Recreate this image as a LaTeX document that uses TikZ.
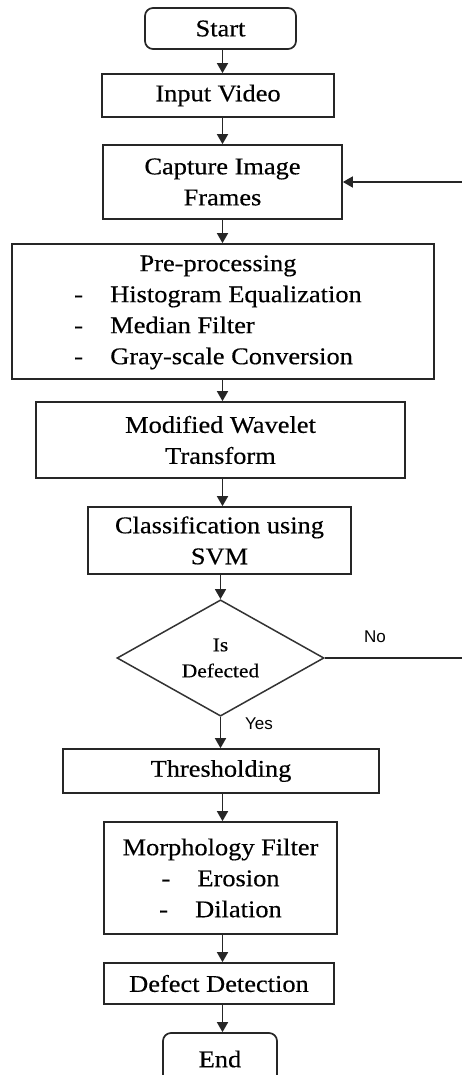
\documentclass[tikz,border=0pt]{standalone}
\usepackage{fontspec}
\setmainfont{Liberation Serif}[FakeStretch=1.1,FakeBold=0.4]
\newfontfamily\labelfont{Liberation Sans}
\usetikzlibrary{arrows.meta,shapes.geometric}
\begin{document}
\begin{tikzpicture}[x=1pt,y=-1pt,
  box/.style={draw=black!85, line width=1.7pt, inner sep=0pt, align=center,
    font=\fontsize{24}{31}\selectfont},
  term/.style={box, rounded corners=8pt},
  decision/.style={diamond, draw=black!80, line width=1.5pt, inner sep=0pt, align=center,
    font=\fontsize{19.5}{26}\selectfont},
  arr/.style={-{Triangle[width=11pt,length=10pt]}, line width=1.7pt, draw=black!85},
  lbl/.style={font=\labelfont\fontsize{17}{20}\selectfont, inner sep=0pt}]
\useasboundingbox (0,0) rectangle (461,1075);
\node[term, minimum width=151pt, minimum height=41pt] (start) at (220.5,28.5) {Start};
\node[box, minimum width=232pt, minimum height=43pt] (input) at (218,95.5) {Input Video};
\node[box, minimum width=239pt, minimum height=74pt] (cap) at (222.5,182) {Capture Image\\Frames};
\node[box, minimum width=422pt, minimum height=135pt] (pre) at (223,311.5)
  {\begin{tabular}{@{}p{36pt}@{}l@{}}\multicolumn{2}{c}{Pre-processing}\\ -&Histogram Equalization\\ -&Median Filter\\ -&Gray-scale Conversion\end{tabular}\hspace*{10pt}};
\node[box, minimum width=369pt, minimum height=76pt] (mwt) at (220.5,440) {Modified Wavelet\\Transform};
\node[box, minimum width=263pt, minimum height=67pt] (cls) at (219.5,540.5) {Classification using\\SVM};
\node[decision, minimum width=207pt, minimum height=114pt] (dec) at (220.5,658) {Is\\Defected};
\node[box, minimum width=316pt, minimum height=44pt] (thr) at (221,771) {Thresholding};
\node[box, minimum width=233pt, minimum height=112pt] (mor) at (220.5,878)
  {Morphology Filter\\ \makebox[36pt][l]{-}Erosion\\ \makebox[36pt][l]{-}Dilation};
\node[box, minimum width=230pt, minimum height=41pt] (det) at (219,983.5) {Defect Detection};
\node[term, minimum width=114pt, minimum height=52pt] (end) at (220,1059) {End};
\node[lbl] (no) at (375,637) {No};
\node[lbl] (yes) at (259,724) {Yes};
\coordinate (ax) at (222.5,0);
\coordinate (loopR) at (465,0);
\draw[arr] (start.south -| ax) -- (input.north -| ax);
\draw[arr] (input.south -| ax) -- (cap.north -| ax);
\draw[arr] (cap.south -| ax) -- (pre.north -| ax);
\draw[arr] (pre.south -| ax) -- (mwt.north -| ax);
\draw[arr] (mwt.south -| ax) -- (cls.north -| ax);
\draw[arr] (cls.south -| dec.north) -- (dec.north);
\draw[arr] (dec.south) -- (thr.north -| dec.south);
\draw[arr] (thr.south -| ax) -- (mor.north -| ax);
\draw[arr] (mor.south -| ax) -- (det.north -| ax);
\draw[arr] (det.south -| ax) -- (end.north -| ax);
\draw[arr] (dec.east) -- (dec.east -| loopR) -- (cap.east -| loopR) -- (cap.east);
\end{tikzpicture}
\end{document}
